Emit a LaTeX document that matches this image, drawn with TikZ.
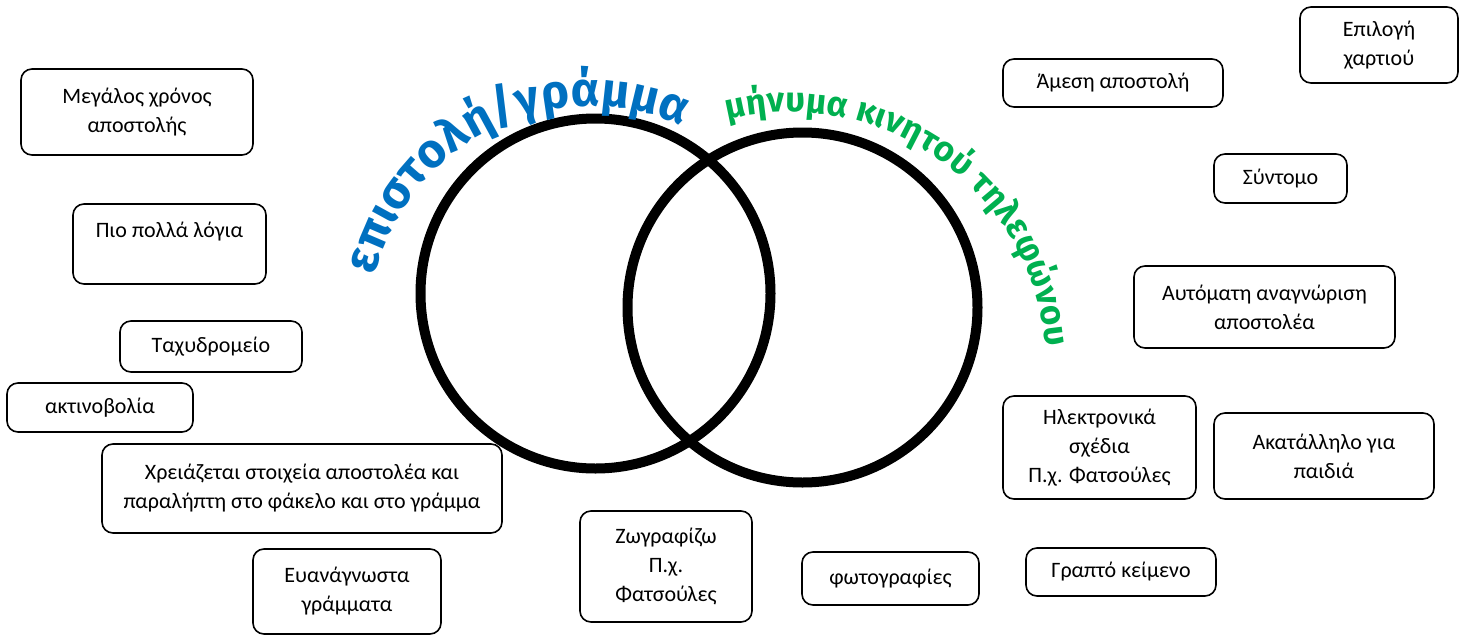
\documentclass[tikz,border=0pt]{standalone}
\usepackage{fontspec}
\setmainfont{Carlito}
\newfontfamily\handfont{Fira Sans}
\usepackage{xcolor}
\definecolor{letterblue}{HTML}{0070C0}
\definecolor{smsgreen}{HTML}{00B050}
\usepackage{tikz}
\usetikzlibrary{decorations.text}
\tikzset{
    card/.style={
        draw, thick,
        line width=1.6pt,
        rounded corners=11pt,
        align=center,
        inner sep=0pt,
        font=\fontsize{22}{29}\selectfont
    },
    set/.style={
        circle, draw,
        line width=10pt,
        minimum size=350pt,
        inner sep=0pt
    },
    arctitle/.style={
        decorate,
        decoration={text along path, text align=center, text color=#1}
    },
}

\begin{document}
\begin{tikzpicture}[x=1pt, y=-1pt]
        \useasboundingbox (0,0) rectangle (1465,635);

        % the two sets
        \node[set] (letterset) at (595.5,293.5) {};
        \node[set] (smsset) at (802.5,307.5) {};

        \path[arctitle=letterblue, decoration={text={|\handfont\bfseries\fontsize{48}{48}\selectfont|επιστολή/γράμμα}}]
            (590,327) ++(-167:221) arc[start angle=-167, end angle=-65, radius=221];
        \path[arctitle=smsgreen, decoration={text={|\handfont\bfseries\fontsize{35}{35}\selectfont|μήνυμα κινητού τηλεφώνου}}]
            (790,369) ++(-105:257) arc[start angle=-105, end angle=-4, radius=257];

        % left side
        \node[card, minimum width=232pt, minimum height=86pt] (time) at (137,112) {Μεγάλος χρόνος\\αποστολής};
        \node[card, minimum width=193pt, minimum height=80pt] (words) at (169.5,244) {Πιο πολλά λόγια\\ \mbox{}};
        \node[card, minimum width=182pt, minimum height=51pt] (post) at (211,346.5) {Ταχυδρομείο};
        \node[card, minimum width=186pt, minimum height=49pt] (rad) at (100,407.5) {ακτινοβολία};
        \node[card, minimum width=400pt, minimum height=89pt] (addr) at (302,488.5) {Χρειάζεται στοιχεία αποστολέα και\\παραλήπτη στο φάκελο και στο γράμμα};
        \node[card, minimum width=188pt, minimum height=85pt] (read) at (347,591.5) {Ευανάγνωστα\\γράμματα};

        % bottom
        \node[card, minimum width=172pt, minimum height=111pt] (draw) at (666,566.5) {Ζωγραφίζω\\Π.χ.\\Φατσούλες};
        \node[card, minimum width=177pt, minimum height=53pt] (photo) at (890.5,578.5) {φωτογραφίες};
        \node[card, minimum width=190pt, minimum height=48pt] (text) at (1121,572) {Γραπτό κείμενο};

        % right side
        \node[card, minimum width=158pt, minimum height=76pt] (paper) at (1379,45) {Επιλογή\\χαρτιού};
        \node[card, minimum width=220pt, minimum height=48pt] (fast) at (1113,83) {Άμεση αποστολή};
        \node[card, minimum width=133pt, minimum height=49pt] (short) at (1280.5,178.5) {Σύντομο};
        \node[card, minimum width=261pt, minimum height=82pt] (auto) at (1264.5,307) {Αυτόματη αναγνώριση\\αποστολέα};
        \node[card, minimum width=193pt, minimum height=103pt] (emoji) at (1099.5,447.5) {Ηλεκτρονικά\\σχέδια\\Π.χ. Φατσούλες};
        \node[card, minimum width=220pt, minimum height=86pt] (kids) at (1324,456) {Ακατάλληλο για\\παιδιά};
\end{tikzpicture}
\end{document}
